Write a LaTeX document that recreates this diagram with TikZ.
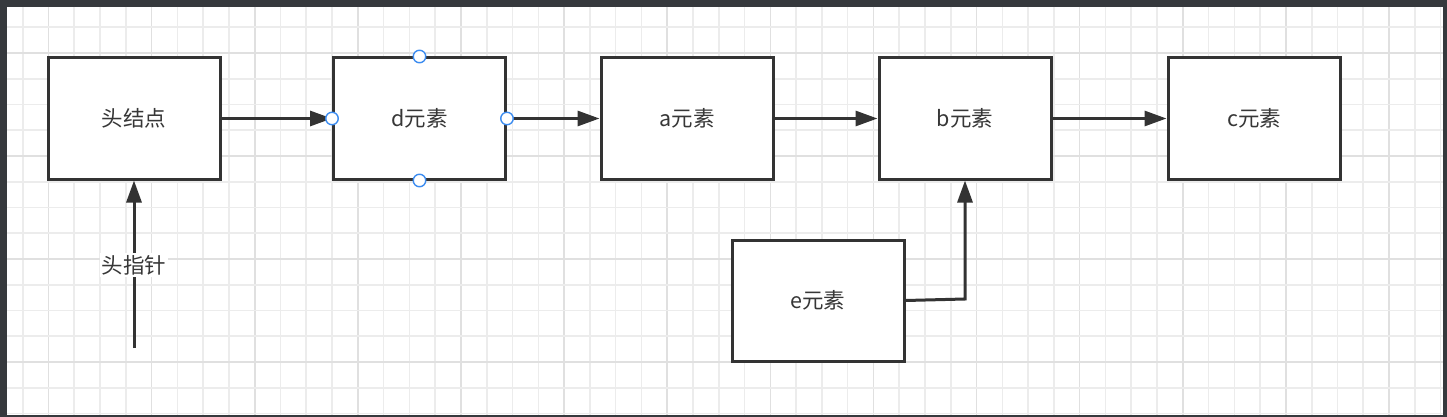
\documentclass[tikz,border=0pt]{standalone}
\usepackage{fontspec}
\newfontfamily\cjk{Noto Sans CJK SC}
\usetikzlibrary{arrows.meta}
\definecolor{frame}{RGB}{54,57,61}
\definecolor{gridminor}{RGB}{236,236,236}
\definecolor{gridmajor}{RGB}{224,224,224}
\definecolor{ink}{RGB}{51,51,51}
\definecolor{txt}{RGB}{55,55,55}
\definecolor{handle}{RGB}{60,140,240}
\tikzset{
  elem/.style={draw=ink, line width=3pt, fill=white, minimum width=172pt, minimum height=121pt, inner sep=0pt, font=\cjk\fontsize{21.5}{25}\selectfont, text=txt},
  conn/.style={draw=ink, line width=3pt, -{Triangle[length=22pt,width=15pt]}},
  hdl/.style={circle, draw=handle, line width=1.4pt, fill=white, minimum size=12.5pt, inner sep=0pt},
  lbl/.style={fill=white, inner sep=2pt, font=\cjk\fontsize{21.5}{25}\selectfont, text=txt}
}
\begin{document}
\begin{tikzpicture}[x=1pt,y=-1pt]
\useasboundingbox (0,0) rectangle (1447,417);
\fill[frame] (0,0) rectangle (1447,417);
\fill[white] (7,7) rectangle (1443,415);
\begin{scope}
\clip (7,7) rectangle (1443,415);
\foreach \k in {0,...,55} {
  \pgfmathtruncatemacro{\m}{mod(\k+3,4)}
  \ifnum\m=0
    \draw[gridmajor, line width=1.6pt] ({22.7+25.78*\k},7) -- ({22.7+25.78*\k},415);
  \else
    \draw[gridminor, line width=1.6pt] ({22.7+25.78*\k},7) -- ({22.7+25.78*\k},415);
  \fi
}
\foreach \k in {0,...,15} {
  \pgfmathtruncatemacro{\m}{mod(\k+3,4)}
  \ifnum\m=0
    \draw[gridmajor, line width=1.6pt] (7,{27.25+25.75*\k}) -- (1443,{27.25+25.75*\k});
  \else
    \draw[gridminor, line width=1.6pt] (7,{27.25+25.75*\k}) -- (1443,{27.25+25.75*\k});
  \fi
}
\end{scope}

\node[elem] (head) at (134,118.5) {头结点};
\node[elem] (d) at (419.5,118.5) {d元素};
\node[elem] (a) at (687,118.5) {a元素};
\node[elem] (b) at (965,118.5) {b元素};
\node[elem] (c) at (1254,118.5) {c元素};
\node[elem] (e) at (818,300.5) {e元素};

\coordinate (hp) at (134,348);
\coordinate (ebend) at (965,299);

\draw[conn] (head.east) -- (d.west);
\draw[conn] (d.east) -- (a.west);
\draw[conn] (a.east) -- (b.west);
\draw[conn] (b.east) -- (c.west);
\draw[conn] (e.east) -- (ebend) -- (b.south);
\draw[conn] (hp) -- (head.south);
\node[lbl] (hplabel) at (134,265) {头指针};

\node[hdl] (h1) at (d.north) {};
\node[hdl] (h2) at (d.south) {};
\node[hdl] (h3) at (d.west) {};
\node[hdl] (h4) at (d.east) {};
\end{tikzpicture}
\end{document}
